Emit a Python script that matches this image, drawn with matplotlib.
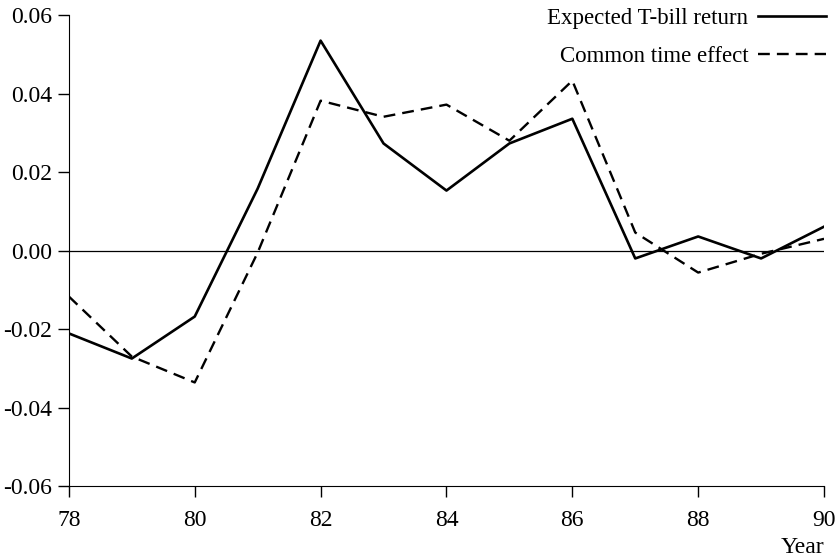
import numpy as np
import matplotlib.pyplot as plt

years = [78, 79, 80, 81, 82, 83, 84, 85, 86, 87, 88, 89, 90]
tbill_return = [-0.0211, -0.0275, -0.0168, 0.0158, 0.0535, 0.0273, 0.0153,
                0.0273, 0.0336, -0.0020, 0.0036, -0.0020, 0.0061]
time_effect = [-0.0117, -0.0270, -0.0336, -0.0005, 0.0382, 0.0341, 0.0372,
               0.0280, 0.0433, 0.0046, -0.0056, -0.0008, 0.0030]

plt.rcParams['font.family'] = ['Liberation Serif', 'DejaVu Serif']

fig = plt.figure(figsize=(8.4, 5.6), dpi=100)
ax = fig.add_axes([0.082, 0.132, 0.899, 0.841])

ax.axhline(0, color='black', lw=0.9)
ax.plot(years, tbill_return, color='black', lw=1.9, label='Expected T-bill return')
ax.plot(years, time_effect, color='black', lw=1.7, ls=(0, (5, 3)),
        label='Common time effect')

ax.set_xlim(78, 90)
ax.set_ylim(-0.06, 0.06)
ax.set_xticks(np.arange(78, 91, 2))
ax.set_yticks(np.arange(-0.06, 0.061, 0.02))
ax.set_yticklabels(['-0.06', '-0.04', '-0.02', '0.00', '0.02', '0.04', '0.06'])

for side in ['top', 'right']:
    ax.spines[side].set_visible(False)
ax.tick_params(direction='out', length=8, width=1, labelsize=17, colors='black')
ax.tick_params(axis='y', pad=4)
ax.tick_params(axis='x', pad=9)

ax.text(1.0, -0.108, 'Year', transform=ax.transAxes, ha='right', va='top',
        fontsize=17)

ax.legend(loc='upper right', bbox_to_anchor=(1.003, 1.015), frameon=False,
          markerfirst=False, fontsize=16.5, handlelength=3.0, handletextpad=0.4,
          labelspacing=0.75, borderpad=0, borderaxespad=0)

fig.savefig('out.png', dpi=100)
